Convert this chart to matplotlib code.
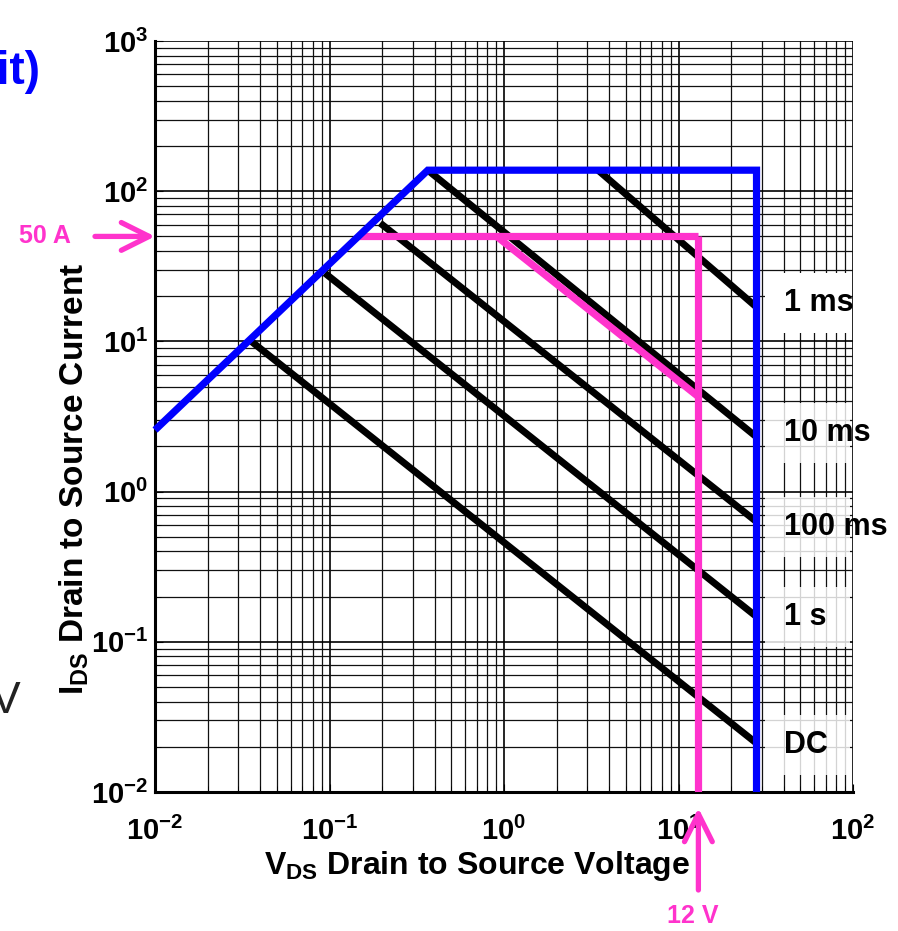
import numpy as np
import matplotlib
matplotlib.use("Agg")
import matplotlib.pyplot as plt
from matplotlib.ticker import LogLocator, FuncFormatter, NullFormatter
from matplotlib.transforms import offset_copy

# SOA boundary (blue): Rds(on) line, current limit, voltage limit
soa_v = [0.01, 0.366, 28, 28]
soa_i = [2.57, 138, 138, 0.01]

# single pulse lines
pulse_names = ['1 ms', '10 ms', '100 ms', '1 s', 'DC']
pulse_v = [[3.46, 28], [0.366, 28], [0.195, 28], [0.094, 28], [0.0358, 28]]
pulse_i = [[138, 16.9], [138, 2.31], [61.4, 0.63], [28.5, 0.147], [9.96, 0.0211]]
label_i = [18, 2.45, 0.58, 0.146, 0.0206]
label_v = 40

# operating limit (pink)
limit_a = 50
limit_v = 13
limit_h_v = [0.146, 13]
limit_diag_v = [0.908, 13]
limit_diag_i = [50, 4.28]

BLUE = '#0000ff'
PINK = '#ff33cc'

plt.rcParams['font.family'] = ['Liberation Sans', 'DejaVu Sans']
plt.rcParams['font.weight'] = 'bold'
plt.rcParams['mathtext.fontset'] = 'custom'
plt.rcParams['mathtext.bf'] = 'Liberation Sans:bold'
plt.rcParams['mathtext.rm'] = 'Liberation Sans:bold'

fig = plt.figure(figsize=(8.98, 9.31), dpi=100)
ax = fig.add_axes([155/898, 1 - 792/931, 698/898, 751/931])
ax.set_xscale('log')
ax.set_yscale('log')
ax.set_xlim(1e-2, 1e2)
ax.set_ylim(1e-2, 1e3)

for axis in (ax.xaxis, ax.yaxis):
    axis.set_major_locator(LogLocator(base=10, numticks=20))
    axis.set_minor_locator(LogLocator(base=10, subs=np.arange(2, 10), numticks=100))
    axis.set_minor_formatter(NullFormatter())
    axis.set_major_formatter(FuncFormatter(lambda v, p: r'$\mathbf{10^{%d}}$' % round(np.log10(v))))

ax.grid(True, which='major', color='black', lw=1.2)
ax.grid(True, which='minor', color='#111111', lw=0.9)
ax.tick_params(which='both', direction='in', labelsize=21)
ax.tick_params(axis='x', which='major', pad=18, length=6)
ax.tick_params(axis='y', which='major', pad=5, length=6)
ax.tick_params(which='minor', length=4)
for s in ['top', 'right']:
    ax.spines[s].set_visible(False)
for s in ['left', 'bottom']:
    ax.spines[s].set_linewidth(2.2)

# label boxes on the right
for k, (name, y) in enumerate(zip(pulse_names, label_i)):
    ax.axhspan(y / 10**0.2, y * 10**0.2, xmin=0.874, xmax=0.996, color='white',
               alpha=1.0 if k == 0 else 0.82, lw=0, zorder=2)
    ax.text(label_v, y, name, fontsize=22, fontweight='bold', ha='left', va='center', zorder=6)

for v, i in zip(pulse_v, pulse_i):
    ax.plot(v, i, color='black', lw=5.0, solid_capstyle='butt', zorder=3)

ax.plot(limit_h_v, [limit_a, limit_a], color=PINK, lw=5.2, solid_capstyle='butt', zorder=4)
ax.plot([limit_v, limit_v], [limit_a, 0.01], color=PINK, lw=5.2, solid_capstyle='butt', zorder=4)
ax.plot(limit_diag_v, limit_diag_i, color=PINK, lw=5.2, solid_capstyle='butt', zorder=4)

ax.plot(soa_v, soa_i, color=BLUE, lw=5.2, solid_joinstyle='miter', solid_capstyle='butt',
        zorder=5, clip_on=False)

# pink arrows and values
arrow = dict(arrowstyle='->,head_length=1.0,head_width=0.5', color=PINK, lw=3.8,
             mutation_scale=20, shrinkA=0, shrinkB=0)
ax.annotate('', xy=(0.01, limit_a), xytext=(-60, 0), textcoords='offset pixels',
            arrowprops=arrow, annotation_clip=False)
ax.annotate('50 A', xy=(0.01, limit_a), xytext=(-110, 0), textcoords='offset pixels',
            ha='center', va='center', fontsize=18, fontweight='bold', color=PINK,
            annotation_clip=False)
below = offset_copy(ax.transData, fig=fig, x=0, y=-16, units='dots')
ax.annotate('', xy=(limit_v, 0.01), xycoords=below, xytext=(0, -82), textcoords='offset pixels',
            arrowprops=arrow, annotation_clip=False)
ax.annotate('12 V', xy=(limit_v, 0.01), xytext=(-6, -124), textcoords='offset pixels',
            ha='center', va='center', fontsize=18, fontweight='bold', color=PINK,
            annotation_clip=False)

ax.set_xlabel(r'$\mathbf{V_{DS}}$ Drain to Source Voltage', fontsize=23, fontweight='bold')
ax.set_ylabel(r'$\mathbf{I_{DS}}$ Drain to Source Current', fontsize=24, fontweight='bold')
ax.xaxis.set_label_coords(0.461, -0.076)
ax.yaxis.set_label_coords(-0.092, 0.417)

# cut-off text from neighbouring content
fig.text(41/898, 1 - 84/931, 'Limit)', color=BLUE, fontsize=33, fontweight='bold',
         ha='right', va='baseline')
fig.text(20/898, 1 - 713/931, 'V', color='#222222', fontsize=32, fontweight='normal',
         ha='right', va='baseline')

fig.savefig('out.png', dpi=100)
